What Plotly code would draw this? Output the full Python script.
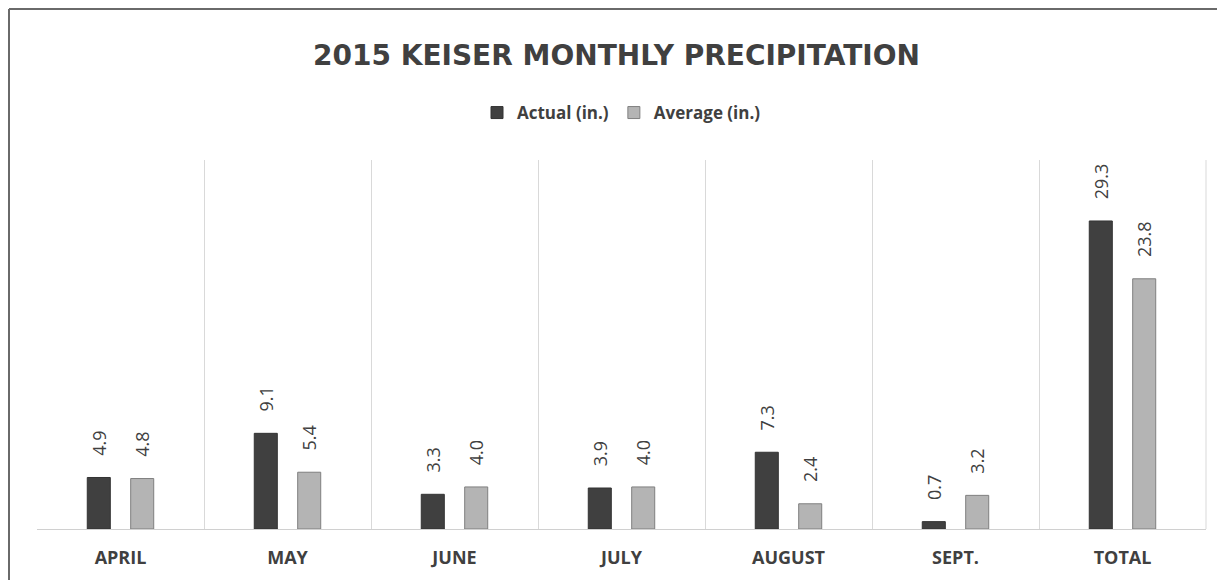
import plotly.graph_objects as go

categories = ["APRIL", "MAY", "JUNE", "JULY", "AUGUST", "SEPT.", "TOTAL"]
actual = [4.9, 9.1, 3.3, 3.9, 7.3, 0.7, 29.3]
average = [4.8, 5.4, 4.0, 4.0, 2.4, 3.2, 23.8]

FONT = "Open Sans"
TXT = "#404040"
PAD = "\u00a0" * 4

W, H = 1217, 572
L, R, T, B = 29, 19, 152, 51
PW, PH = W - L - R, H - T - B

fig = go.Figure()
fig.add_trace(go.Bar(
    name="<b>Actual (in.)</b>", x=categories, y=actual,
    marker=dict(color="#404040", line=dict(color="#333333", width=1)),
    text=[PAD + f"{v:.1f}" for v in actual], textposition="outside", textangle=-90,
    constraintext="none",
    textfont=dict(family=FONT, size=18, color=TXT), cliponaxis=False,
))
fig.add_trace(go.Bar(
    name="<b>Average (in.)</b>", x=categories, y=average,
    marker=dict(color="#b4b4b4", line=dict(color="#7f7f7f", width=1)),
    text=[PAD + f"{v:.1f}" for v in average], textposition="outside", textangle=-90,
    constraintext="none",
    textfont=dict(family=FONT, size=18, color=TXT), cliponaxis=False,
))

fig.update_layout(
    width=W, height=H,
    margin=dict(l=L, r=R, t=T, b=B),
    paper_bgcolor="white", plot_bgcolor="white",
    barmode="group", bargap=0.48, bargroupgap=0.47,
    title=dict(text="<b>2015 KEISER MONTHLY PRECIPITATION</b>", x=0.5, xanchor="center",
               y=1 - 47 / H, yanchor="middle",
               font=dict(family="DejaVu Sans", size=28, color=TXT)),
    legend=dict(orientation="h", x=0.5, xanchor="center", y=1 + (T - 105) / PH,
                yanchor="middle",
                font=dict(family=FONT, size=17, color=TXT), itemwidth=30,
                traceorder="normal"),
    font=dict(family=FONT, color=TXT),
)
fig.update_xaxes(
    type="category", tickson="boundaries", showgrid=True, gridcolor="#d9d9d9", gridwidth=1,
    showline=True, linecolor="#d0d0d0", linewidth=1, ticks="",
    tickfont=dict(family=FONT, size=18, color=TXT), mirror=False,
    tickprefix="<b>", ticksuffix="</b>", ticklabelstandoff=12,
)
fig.update_yaxes(range=[0, 35.1], showgrid=False, showticklabels=False, zeroline=False,
                 showline=False)

# frame edges (left and top) at figure border
x_left = -(L - 1) / PW
y_top = 1 + (T - 1) / PH
fig.add_shape(type="line", xref="paper", yref="paper",
              x0=x_left, x1=x_left, y0=-B / PH, y1=y_top,
              line=dict(color="#6a6a6a", width=2))
fig.add_shape(type="line", xref="paper", yref="paper",
              x0=x_left, x1=1 + R / PW, y0=y_top, y1=y_top,
              line=dict(color="#6a6a6a", width=2))
# right plot edge line
fig.add_shape(type="line", xref="paper", yref="paper", x0=1, x1=1, y0=0, y1=1,
              line=dict(color="#d9d9d9", width=1))

fig.write_html("out.html")
